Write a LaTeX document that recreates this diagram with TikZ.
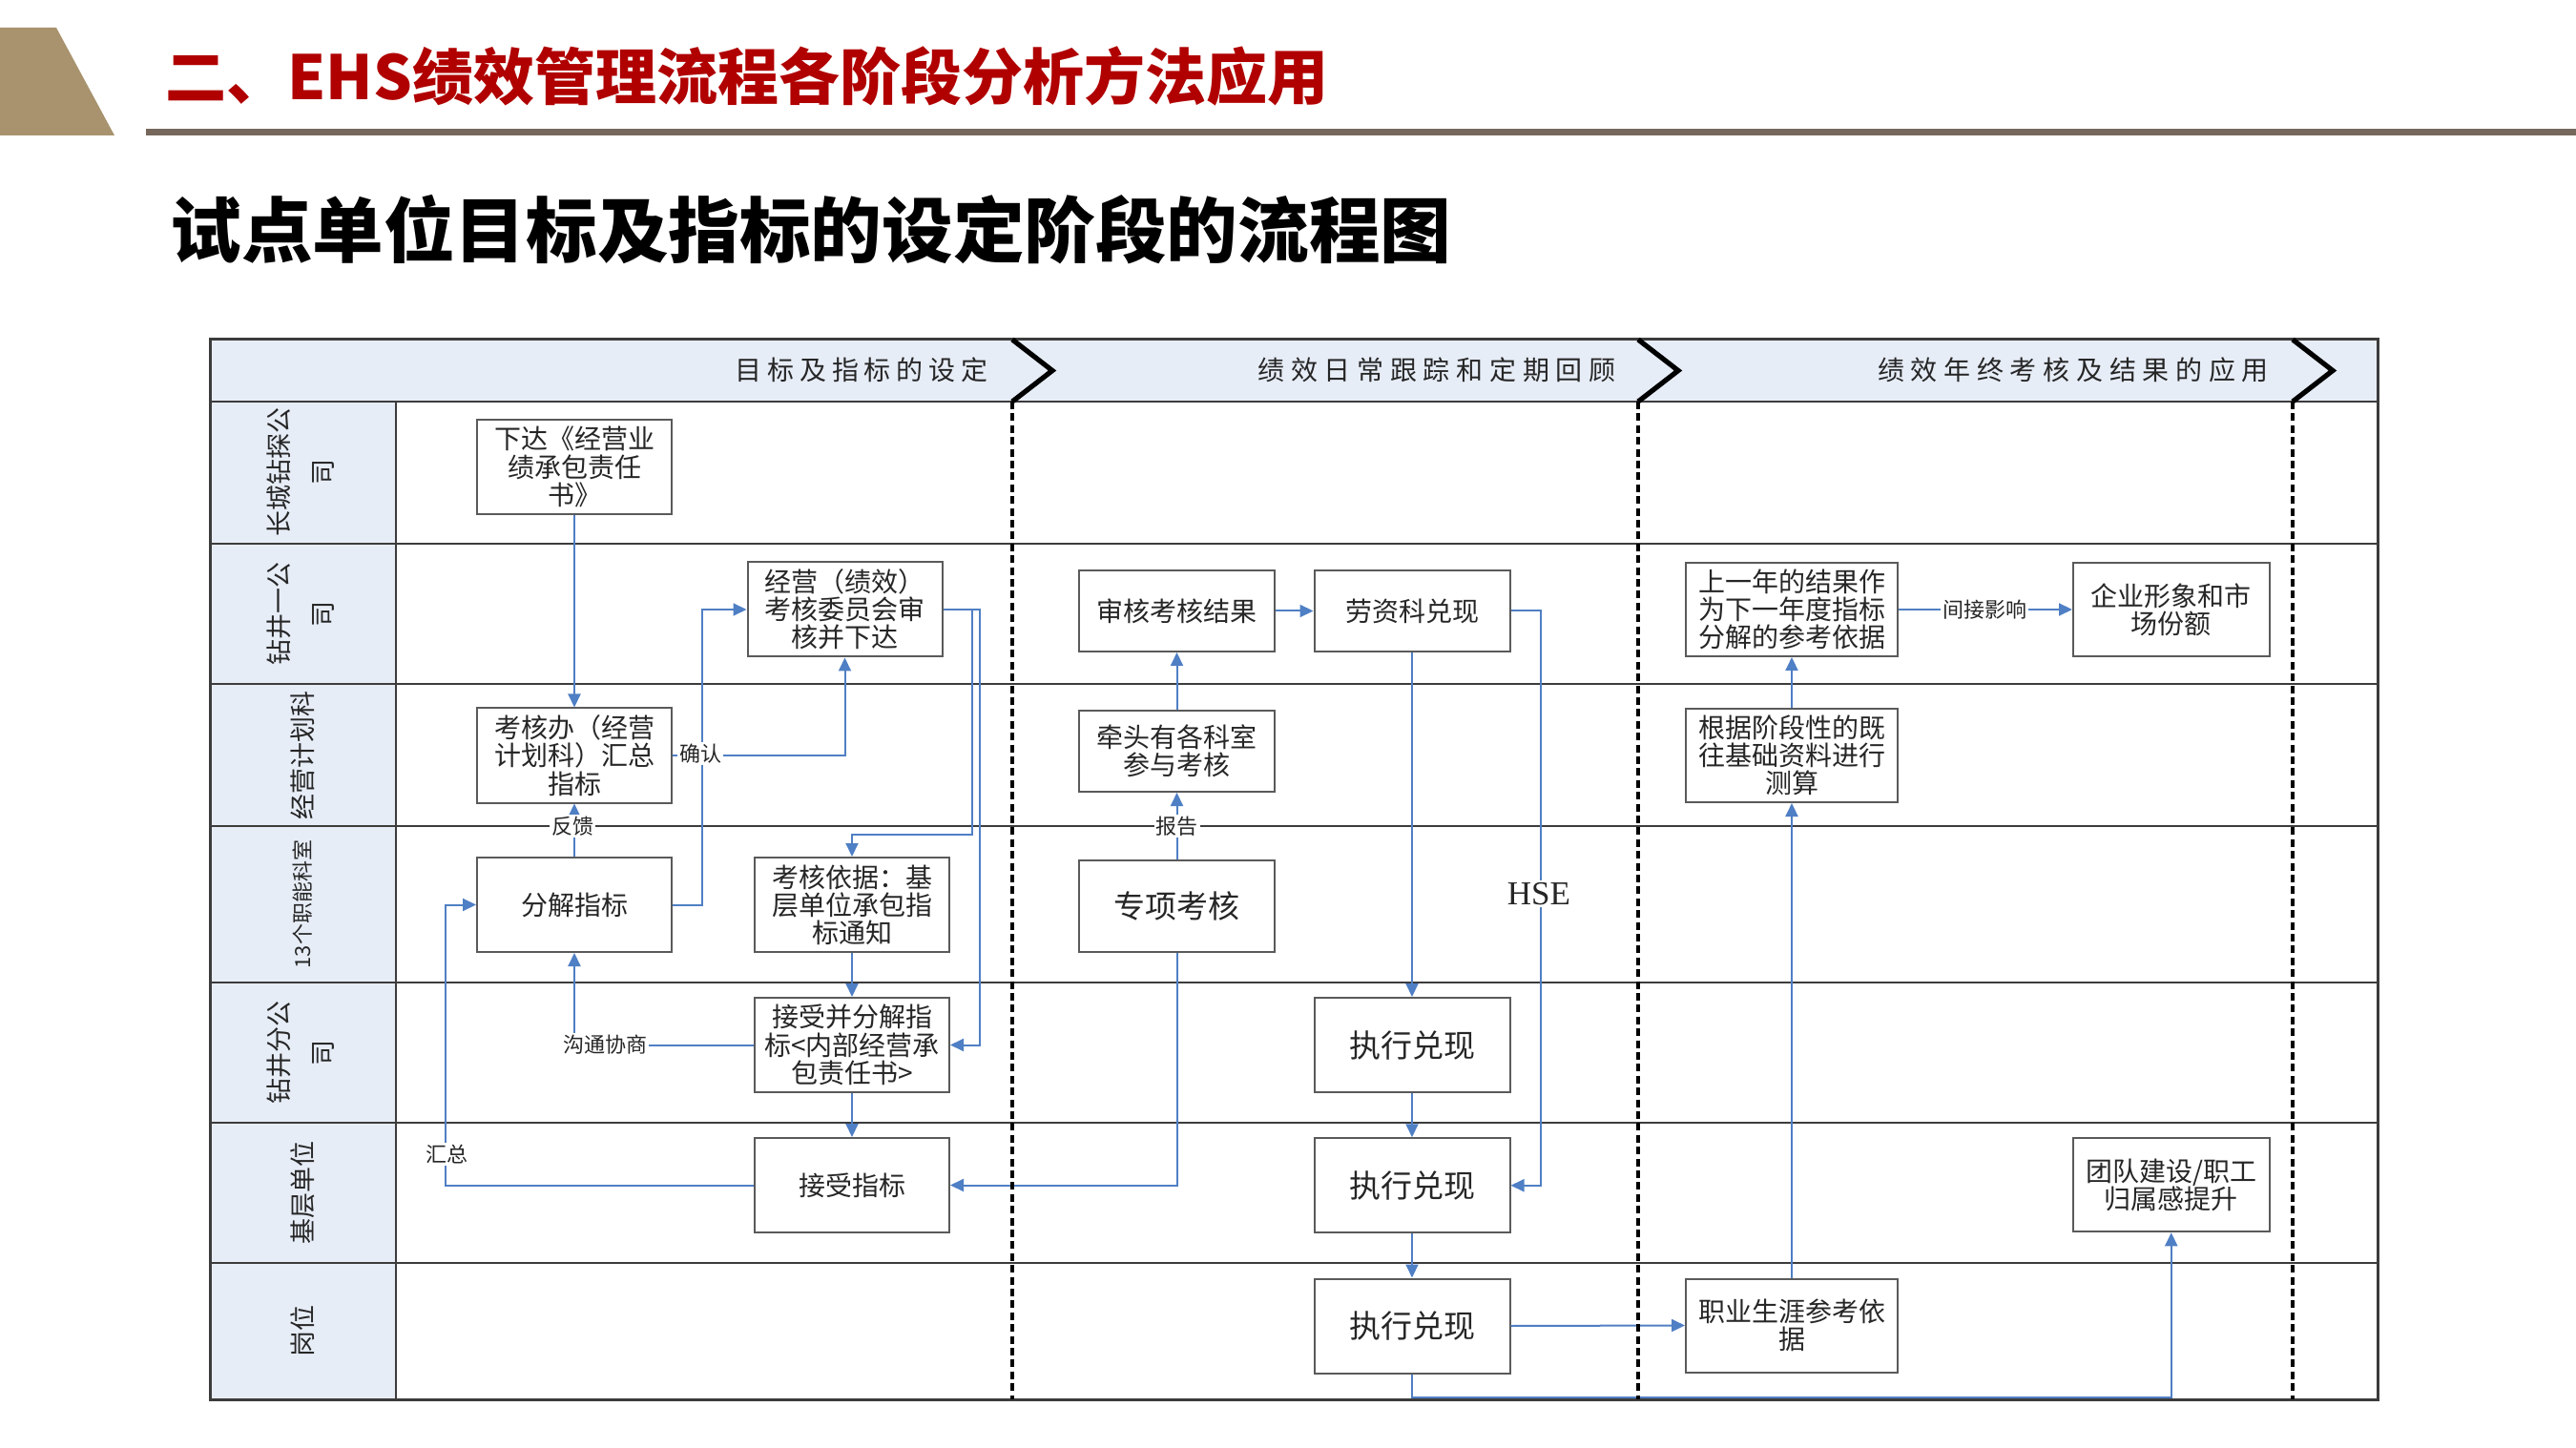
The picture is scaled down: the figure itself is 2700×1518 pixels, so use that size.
\documentclass[tikz,border=0pt]{standalone}
\usepackage{fontspec}
\setmainfont{Liberation Serif}
\newfontfamily\cjk{Noto Sans CJK SC}
\newfontfamily\cjkA[LetterSpace=21]{Noto Sans CJK SC}
\newfontfamily\cjkB[LetterSpace=24]{Noto Sans CJK SC}
\usetikzlibrary{arrows.meta}
\definecolor{hdr}{HTML}{E7EDF7}
\definecolor{conn}{HTML}{4F7FC4}
\definecolor{bxline}{HTML}{5A5A5A}
\definecolor{laneline}{HTML}{3C3C3C}
\definecolor{ttl}{HTML}{B00000}
\definecolor{tanc}{HTML}{A8936E}
\definecolor{barc}{HTML}{76675C}
\definecolor{txt}{HTML}{262626}
\begin{document}
\begin{tikzpicture}[x=0.5pt,y=-0.5pt,
  bx/.style={draw=bxline,line width=1pt,fill=white,inner sep=0pt,align=center,text=txt,
    font=\cjk\fontsize{14}{14.6}\selectfont},
  bxA/.style={bx,minimum width=102pt,minimum height=49.5pt},
  bxB/.style={bx,minimum width=102.5pt,minimum height=42.5pt},
  bxC/.style={bx,minimum width=102.5pt,minimum height=49.5pt,font=\cjk\fontsize{16.5}{17}\selectfont},
  bxD/.style={bx,minimum width=111pt,minimum height=49pt},
  bxE/.style={bx,minimum width=102.75pt,minimum height=49pt},
  cn/.style={draw=conn,line width=1pt,-{Triangle[length=7pt,width=6.5pt]}},
  lbl/.style={fill=white,inner sep=1pt,text=txt,font=\cjk\fontsize{11}{12}\selectfont},
  lanelbl/.style={rotate=90,align=center,text=txt,inner sep=0pt,font=\cjk\fontsize{13.5}{23}\selectfont},
  hdtxt/.style={text=txt,inner sep=0pt},
  divl/.style={draw=black,line width=2.3pt,dash pattern=on 4pt off 2.2pt},
  chev/.style={draw=black,line width=2.6pt,line join=miter}
]
\useasboundingbox (0,0) rectangle (2700,1518);
% top decoration
\fill[tanc] (0,29) -- (59,29) -- (120,142) -- (0,142) -- cycle;
\fill[barc] (153,135) rectangle (2700,142);
\node[anchor=west,inner sep=0pt,text=ttl,font=\cjk\bfseries\fontsize{32}{34}\selectfont] (title) at (173,80) {二、EHS绩效管理流程各阶段分析方法应用};
\node[anchor=west,inner sep=0pt,text=black,font=\cjk\bfseries\fontsize{37.3}{39}\selectfont] (subtitle) at (178,241) {试点单位目标及指标的设定阶段的流程图};
% table background
\fill[hdr] (220,356) rectangle (2492,421);
\fill[hdr] (220,421) rectangle (415,1467);
% lane lines
\foreach \yy in {421,570,717,866,1030,1177,1324}
  \draw[laneline,line width=1.3pt] (220,\yy) -- (2492,\yy);
\draw[laneline,line width=1.3pt] (415,421) -- (415,1467);
\draw[laneline,line width=1.5pt] (220,356) rectangle (2492,1467);
% header texts
\node[hdtxt,font=\cjkA\fontsize{14}{15}\selectfont] (h1) at (903,388) {目标及指标的设定};
\node[hdtxt,font=\cjkB\fontsize{14}{15}\selectfont] (h2) at (1506,388) {绩效日常跟踪和定期回顾};
\node[hdtxt,font=\cjkB\fontsize{14}{15}\selectfont] (h3) at (2173,388) {绩效年终考核及结果的应用};
% lane labels
\node[lanelbl] (l1) at (315,495.5) {长城钻探公\\司};
\node[lanelbl] (l2) at (315,643.5) {钻井一公\\司};
\node[lanelbl] (l3) at (317.5,791.5) {经营计划科};
\node[lanelbl,font=\cjk\fontsize{11}{12}\selectfont] (l4) at (317.5,948) {13个职能科室};
\node[lanelbl] (l5) at (315,1103.5) {钻井分公\\司};
\node[lanelbl] (l6) at (317.5,1250.5) {基层单位};
\node[lanelbl] (l7) at (317.5,1395.5) {岗位};
% boxes - stage 1
\node[bxA] (xd) at (602,489.5) {下达《经营业\\绩承包责任\\书》};
\node[bxA] (jy) at (885.5,639) {经营（绩效）\\考核委员会审\\核并下达};
\node[bxA] (khb) at (602,792) {考核办（经营\\计划科）汇总\\指标};
\node[bxA] (fj) at (602,948.5) {分解指标};
\node[bxA] (khyj) at (893,948.5) {考核依据：基\\层单位承包指\\标通知};
\node[bxA] (jsfj) at (893,1095.5) {接受并分解指\\标<内部经营承\\包责任书>};
\node[bxA] (jszb) at (893,1242.5) {接受指标};
% stage 2
\node[bxB] (sh) at (1233.5,640.5) {审核考核结果};
\node[bxB] (lz) at (1480,640.5) {劳资科兑现};
\node[bxB] (qt) at (1233.5,787.5) {牵头有各科室\\参与考核};
\node[bxC,minimum height=48pt] (zx) at (1233.5,950) {专项考核};
\node[bxC] (zx1) at (1480,1095.5) {执行兑现};
\node[bxC] (zx2) at (1480,1242.75) {执行兑现};
\node[bxC] (zx3) at (1480,1390) {执行兑现};
% stage 3
\node[bxD] (syn) at (1878,639) {上一年的结果作\\为下一年度指标\\分解的参考依据};
\node[bxE] (qy) at (2275.75,639) {企业形象和市\\场份额};
\node[bxD] (gj) at (1878,792) {根据阶段性的既\\往基础资料进行\\测算};
\node[bxD] (zy) at (1878,1389.5) {职业生涯参考依\\据};
\node[bxE] (td) at (2275.75,1242.25) {团队建设/职工\\归属感提升};
% connectors
\draw[cn] (xd.south) -- (khb.north);
\draw[cn] (khb.east) -| (jy.south);
\draw[cn] (fj.east) -- ++(31,0) |- (jy.west);
\draw[cn] (jy.east) -- ++(30,0) -- ++(0,236) -| (khyj.north);
\draw[cn] (jy.east) -- ++(38,0) |- (jsfj.east);
\draw[cn] (fj.north) -- (khb.south);
\draw[cn] (khyj.south) -- (jsfj.north);
\draw[cn] (jsfj.south) -- (jszb.north);
\draw[cn] (jsfj.west) -| (fj.south);
\draw[cn] (jszb.west) -- ++(-323,0) |- (fj.west);
\draw[cn] (zx.south) |- (jszb.east);
\draw[cn] (zx.north) -- (qt.south);
\draw[cn] (qt.north) -- (sh.south);
\draw[cn] (sh.east) -- (lz.west);
\draw[cn] (lz.south) -- (zx1.north);
\draw[cn] (lz.east) -- ++(31,0) |- (zx2.east);
\draw[cn] (zx1.south) -- (zx2.north);
\draw[cn] (zx2.south) -- (zx3.north);
\draw[cn] (zx3.east) -- (zy.west);
\draw[cn] (zx3.south) -- ++(0,24) -| (td.south);
\draw[cn] (zy.north) -- (gj.south);
\draw[cn] (gj.north) -- (syn.south);
\draw[cn] (syn.east) -- (qy.west);
% stage dividers and chevrons
\foreach \xx in {1061,1717,2403} {
  \draw[divl] (\xx,421) -- (\xx,1467);
  \draw[chev] (\xx,356) -- (\xx+42,388.5) -- (\xx,421);
}
% connector labels
\node[lbl] (lqr) at (734,790) {确认};
\node[lbl] (lfk) at (600,866) {反馈};
\node[lbl] (lgt) at (634,1095.5) {沟通协商};
\node[lbl] (lhz) at (468,1210) {汇总};
\node[lbl] (lbg) at (1233.5,866) {报告};
\node[lbl] (ljj) at (2080,639) {间接影响};
\node[lbl,font=\fontsize{17.5}{18}\selectfont] (lhse) at (1613,937) {HSE};
\end{tikzpicture}
\end{document}
